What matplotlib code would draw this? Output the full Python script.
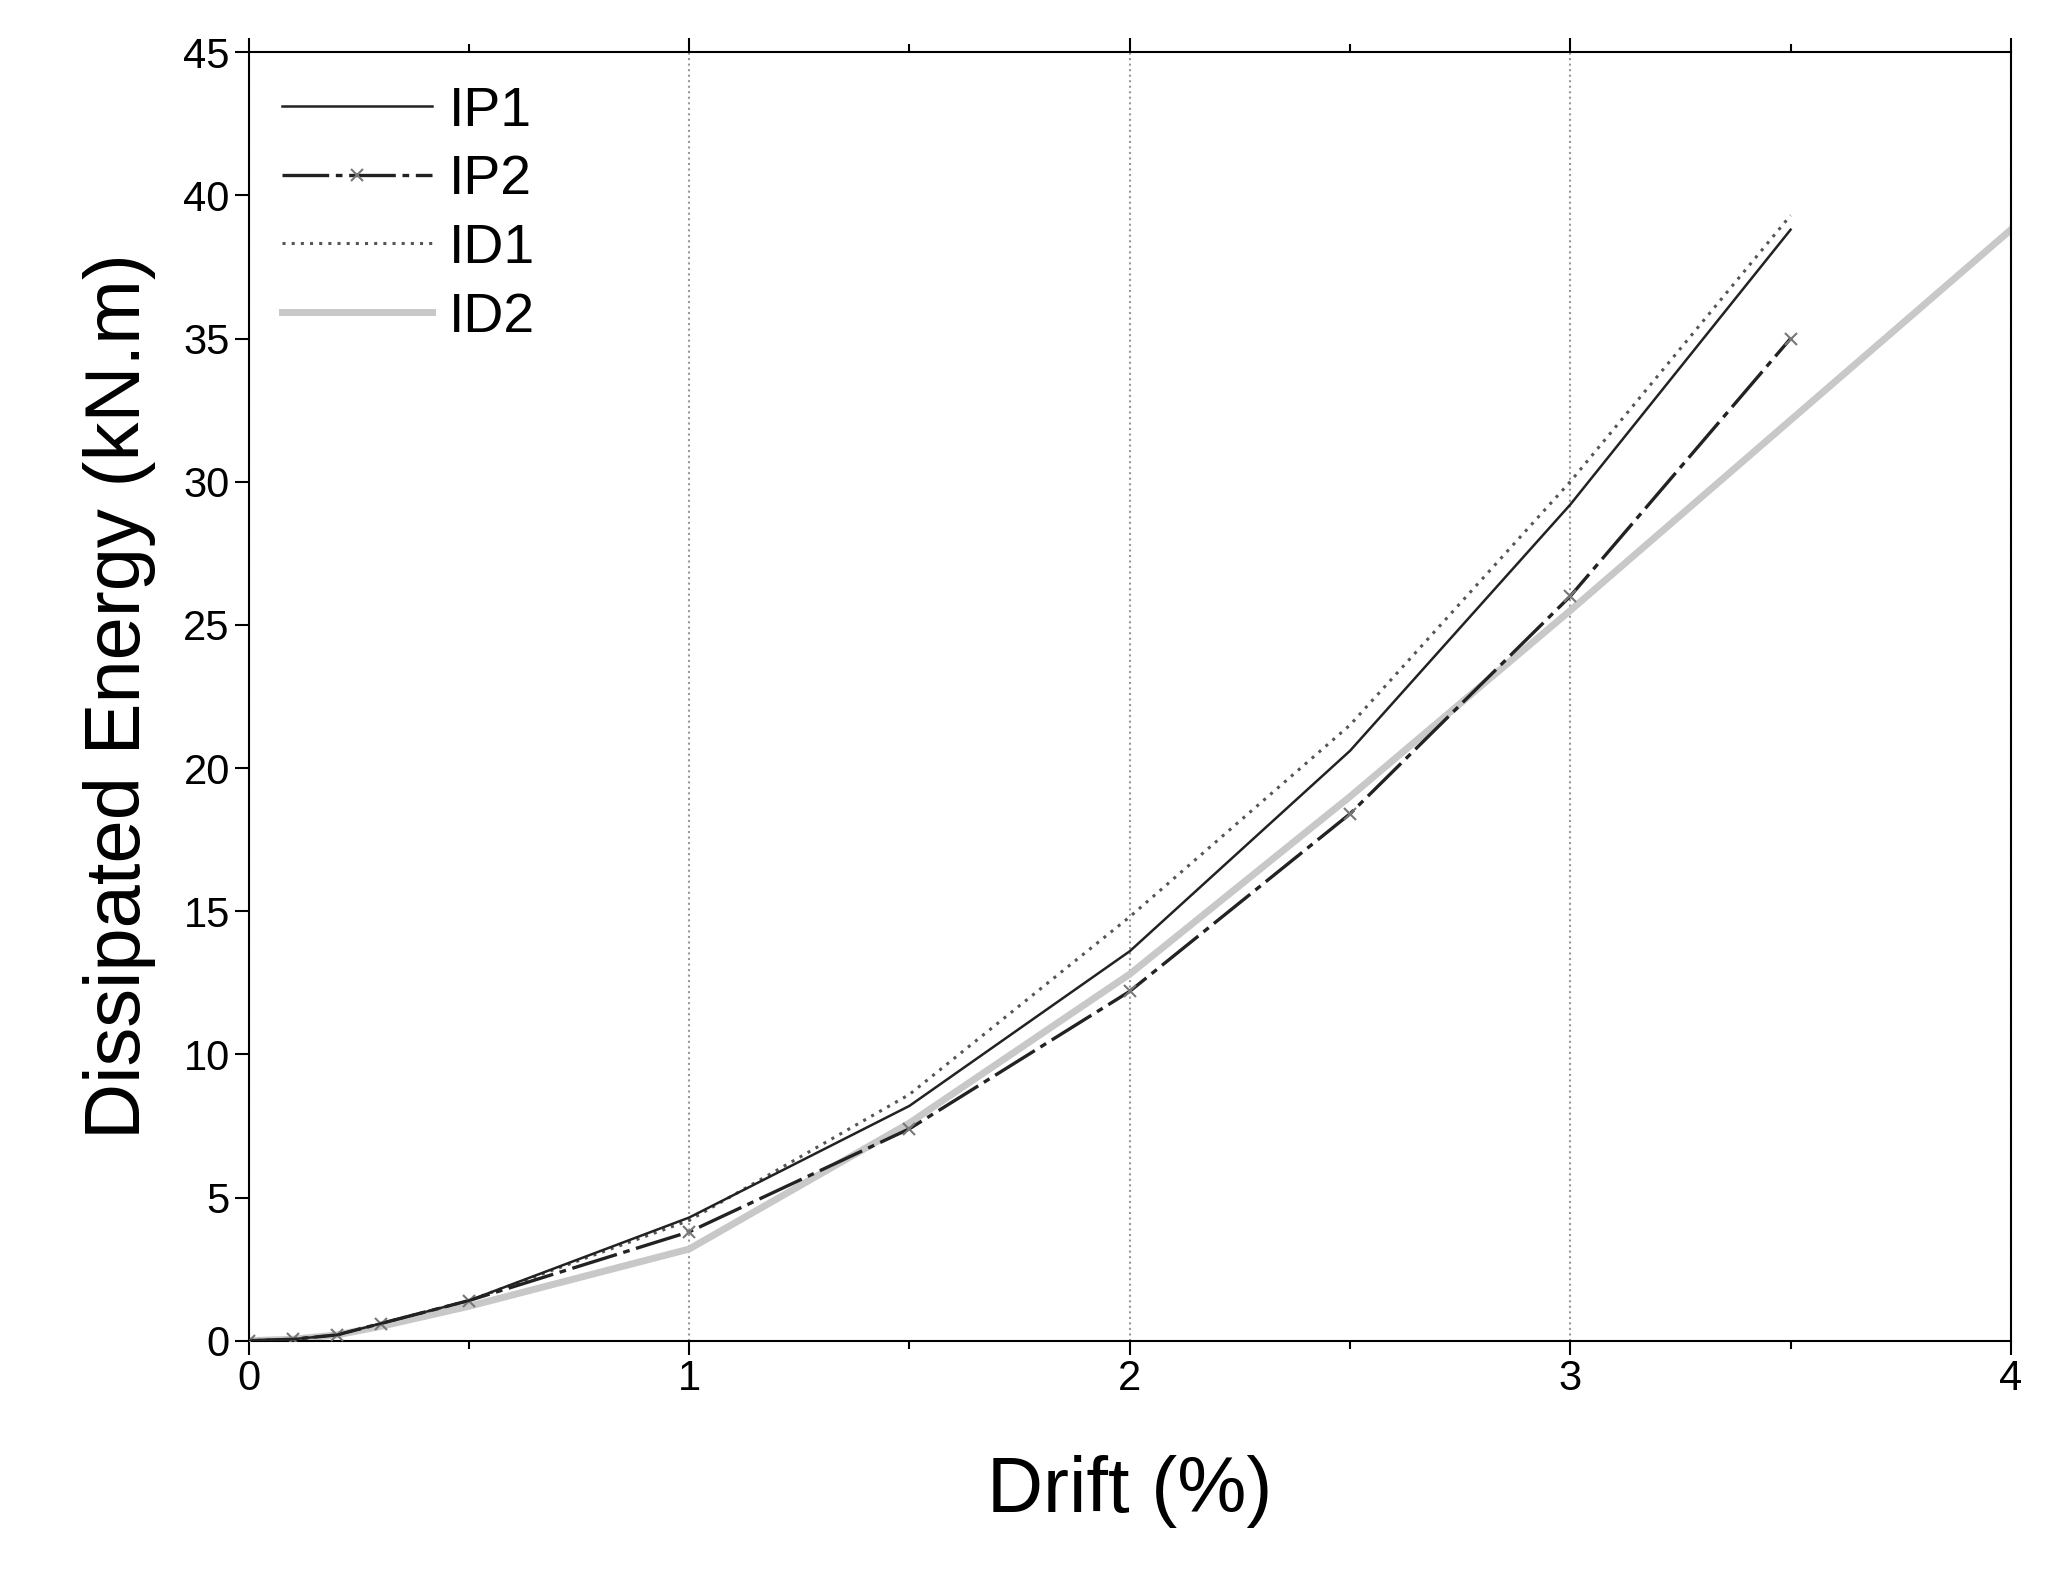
import matplotlib.pyplot as plt
from matplotlib.ticker import MultipleLocator

drift = [0, 0.1, 0.2, 0.3, 0.5, 1.0, 1.5, 2.0, 2.5, 3.0, 3.5]
ip1 = [0, 0.05, 0.2, 0.6, 1.4, 4.3, 8.2, 13.6, 20.6, 29.2, 38.8]
ip2 = [0, 0.05, 0.2, 0.6, 1.4, 3.8, 7.4, 12.2, 18.4, 26.0, 35.0]
id1 = [0, 0.05, 0.2, 0.6, 1.4, 4.2, 8.6, 14.8, 21.5, 30.0, 39.3]
drift_id2 = [0, 0.1, 0.2, 0.3, 0.5, 1.0, 1.5, 2.0, 2.5, 3.0, 4.0]
id2 = [0, 0.05, 0.2, 0.5, 1.2, 3.2, 7.6, 12.8, 19.0, 25.5, 38.8]

plt.rcParams['font.family'] = ['Liberation Sans', 'DejaVu Sans']
fig = plt.figure(figsize=(20.54, 15.81), dpi=100)
ax = fig.add_axes([0.121, 0.152, 0.858, 0.815])

ax.plot(drift_id2, id2, color='#c8c8c8', lw=5, label='ID2', zorder=2)
ax.plot(drift, id1, color='#555555', lw=2.2, ls=(0, (1, 2)), label='ID1', zorder=3)
ax.plot(drift, ip2, color='#222222', lw=2.4, ls=(0, (14, 2, 2, 2)), marker='x',
        ms=9, mew=1.5, mec='#777777', label='IP2', zorder=4)
ax.plot(drift, ip1, color='#222222', lw=1.8, label='IP1', zorder=5)

ax.set_xlim(0, 4)
ax.set_ylim(0, 45)
ax.xaxis.set_major_locator(MultipleLocator(1))
ax.xaxis.set_minor_locator(MultipleLocator(0.5))
ax.yaxis.set_major_locator(MultipleLocator(5))
ax.grid(axis='x', which='major', color='#999999', ls=':', lw=1.5)
ax.tick_params(which='both', direction='out', top=True, right=False,
               labelsize=30, width=1.5)
ax.tick_params(which='major', length=10)
ax.tick_params(which='minor', length=6)
for s in ax.spines.values():
    s.set_linewidth(1.5)

ax.set_xlabel('Drift (%)', fontsize=56, labelpad=40)
ax.set_ylabel('Dissipated Energy (kN.m)', fontsize=56, labelpad=20)

handles, labels = ax.get_legend_handles_labels()
order = [3, 2, 1, 0]
ax.legend([handles[i] for i in order], [labels[i] for i in order],
          loc='upper left', fontsize=40, frameon=False, handlelength=2.7,
          handletextpad=0.3, borderaxespad=0.2, labelspacing=0.3)

fig.savefig('out.png', dpi=100)
